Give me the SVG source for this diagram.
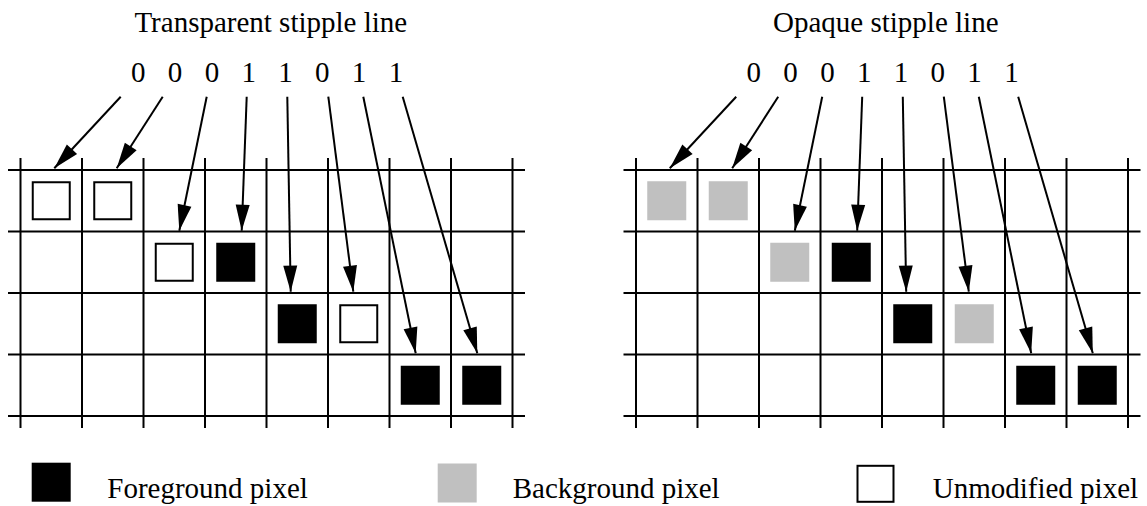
<svg xmlns="http://www.w3.org/2000/svg" width="1147" height="506" viewBox="0 0 1147 506">
<style>
text{font-family:"Liberation Serif","Times New Roman",serif;font-size:29px;fill:#000}
.mid{text-anchor:middle}
.fg{fill:#000}
.bg{fill:#c0c0c0}
.un{fill:#fff;stroke:#000;stroke-width:2}
</style>
<defs>
<marker id="ah" markerUnits="userSpaceOnUse" markerWidth="26" markerHeight="14" refX="26" refY="7" orient="auto" overflow="visible">
<path d="M0,0 L26,7 L0,14 z" fill="#000" stroke="none"/>
</marker>
<g id="gridlines" stroke="#000" stroke-width="2">
<line x1="8" y1="170" x2="525" y2="170"/>
<line x1="8" y1="231.5" x2="525" y2="231.5"/>
<line x1="8" y1="293" x2="525" y2="293"/>
<line x1="8" y1="354.5" x2="525" y2="354.5"/>
<line x1="8" y1="416" x2="525" y2="416"/>
<line x1="20.5" y1="158" x2="20.5" y2="428"/>
<line x1="82" y1="158" x2="82" y2="428"/>
<line x1="143.5" y1="158" x2="143.5" y2="428"/>
<line x1="205" y1="158" x2="205" y2="428"/>
<line x1="266.5" y1="158" x2="266.5" y2="428"/>
<line x1="328" y1="158" x2="328" y2="428"/>
<line x1="389.5" y1="158" x2="389.5" y2="428"/>
<line x1="451" y1="158" x2="451" y2="428"/>
<line x1="512.5" y1="158" x2="512.5" y2="428"/>
</g>
<g id="digitrow" font-family="Liberation Serif, Times New Roman, serif" font-size="29" text-anchor="middle">
<text x="138.3" y="82">0</text>
<text x="175.1" y="82">0</text>
<text x="211.9" y="82">0</text>
<text x="248.7" y="82">1</text>
<text x="285.5" y="82">1</text>
<text x="322.3" y="82">0</text>
<text x="359.1" y="82">1</text>
<text x="395.9" y="82">1</text>
</g>
<g id="arrowset" stroke="#000" stroke-width="2" marker-end="url(#ah)">
<line x1="120.7" y1="96.7" x2="54.3" y2="168.3"/>
<line x1="162.7" y1="96.7" x2="116.7" y2="168.3"/>
<line x1="206.7" y1="96.7" x2="179.3" y2="230.7"/>
<line x1="246.7" y1="96.7" x2="241.7" y2="230.7"/>
<line x1="287.3" y1="96.7" x2="290.7" y2="291.7"/>
<line x1="328.3" y1="96.7" x2="353.3" y2="291.7"/>
<line x1="363.3" y1="96.7" x2="415.7" y2="353.3"/>
<line x1="402.7" y1="96.7" x2="477.3" y2="353.3"/>
</g>
</defs>
<rect width="1147" height="506" fill="#fff"/>

<g id="transparent-panel">
<text id="transparent-title" x="270.8" y="32" class="mid">Transparent stipple line</text>
<g id="transparent-bits"><use href="#digitrow"/></g>
<g id="transparent-grid"><use href="#gridlines"/></g>
<g id="t-px-0"><rect class="un" x="32.75" y="182.25" width="37" height="37"/></g>
<g id="t-px-1"><rect class="un" x="94.25" y="182.25" width="37" height="37"/></g>
<g id="t-px-2"><rect class="un" x="155.75" y="243.75" width="37" height="37"/></g>
<g id="t-px-3"><rect class="fg" x="216.25" y="242.75" width="39" height="39"/></g>
<g id="t-px-4"><rect class="fg" x="277.75" y="304.25" width="39" height="39"/></g>
<g id="t-px-5"><rect class="un" x="340.25" y="305.25" width="37" height="37"/></g>
<g id="t-px-6"><rect class="fg" x="400.75" y="365.75" width="39" height="39"/></g>
<g id="t-px-7"><rect class="fg" x="462.25" y="365.75" width="39" height="39"/></g>
</g>

<g id="opaque-panel">
<text id="opaque-title" x="885.8" y="32" class="mid">Opaque stipple line</text>
<g id="opaque-bits" transform="translate(615.5,0)"><use href="#digitrow"/></g>
<g id="opaque-grid" transform="translate(615.5,0)"><use href="#gridlines"/></g>
<g transform="translate(615.5,0)">
<g id="o-px-0"><rect class="bg" x="31.75" y="181.25" width="39" height="39"/></g>
<g id="o-px-1"><rect class="bg" x="93.25" y="181.25" width="39" height="39"/></g>
<g id="o-px-2"><rect class="bg" x="154.75" y="242.75" width="39" height="39"/></g>
<g id="o-px-3"><rect class="fg" x="216.25" y="242.75" width="39" height="39"/></g>
<g id="o-px-4"><rect class="fg" x="277.75" y="304.25" width="39" height="39"/></g>
<g id="o-px-5"><rect class="bg" x="339.25" y="304.25" width="39" height="39"/></g>
<g id="o-px-6"><rect class="fg" x="400.75" y="365.75" width="39" height="39"/></g>
<g id="o-px-7"><rect class="fg" x="462.25" y="365.75" width="39" height="39"/></g>
</g>
</g>

<g id="connectors">
<use href="#arrowset"/>
<use href="#arrowset" transform="translate(615.5,0)"/>
</g>

<g id="legend-foreground">
<rect class="fg" x="31.7" y="462.7" width="39" height="39"/>
<text x="107.3" y="497.5">Foreground pixel</text>
</g>
<g id="legend-background">
<rect class="bg" x="437.7" y="463.5" width="39" height="39"/>
<text x="512.7" y="497.5">Background pixel</text>
</g>
<g id="legend-unmodified">
<rect class="un" x="857.5" y="465.8" width="36" height="36"/>
<text x="932.7" y="497.5">Unmodified pixel</text>
</g>
</svg>
